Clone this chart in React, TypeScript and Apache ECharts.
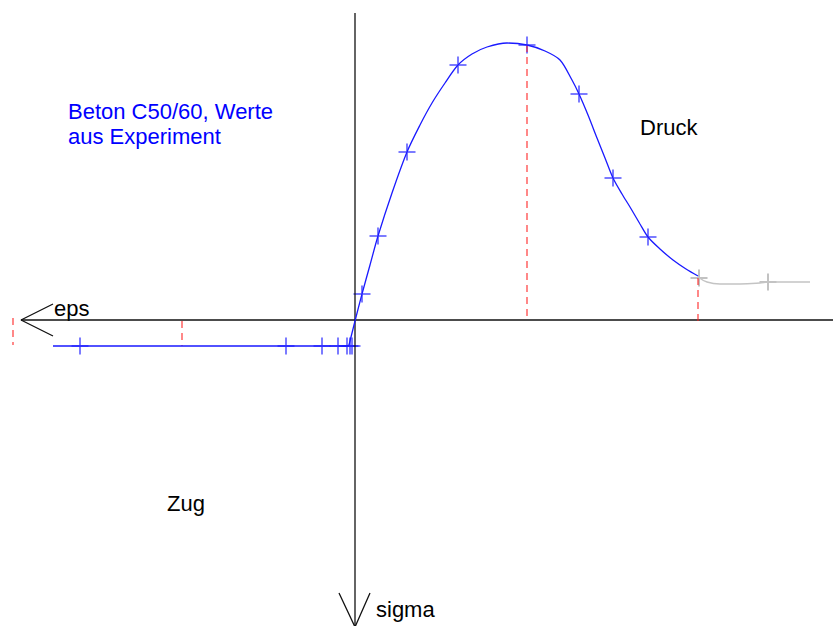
import React, { useEffect, useRef } from "react";
import * as echarts from "echarts";

// Units: x = eps (scaled, origin at the axis crossing), y = sigma (scaled, compression up)
const compressionCurve: [number, number][] = [
  [0, 0], [0.7, 2.7], [1.5, 5.6], [2.3, 8.5], [3.7, 12.8], [5.2, 16.9],
  [6.5, 19.6], [7.7, 21.8], [9.0, 23.8], [10.3, 25.6], [11.7, 26.7], [13.2, 27.4],
  [15.2, 27.8], [17.2, 27.6], [19.0, 27.0], [20.5, 26.1], [21.7, 24.1], [22.4, 22.7],
  [23.3, 20.6], [24.2, 18.3], [25.0, 16.3], [25.8, 14.3], [26.7, 12.7], [27.5, 11.4],
  [28.5, 9.7], [29.3, 8.4], [30.5, 7.2], [31.8, 6.1], [33.1, 5.2], [34.3, 4.5],
];
const compressionMarks: [number, number][] = [
  [0.7, 2.7], [2.3, 8.5], [5.2, 16.9], [10.3, 25.6], [17.2, 27.6],
  [22.4, 22.7], [25.8, 14.3], [29.3, 8.4],
];
const tailCurve: [number, number][] = [
  [34.3, 4.4], [35.2, 3.9], [36.5, 3.7], [38.5, 3.7], [40.5, 3.8], [41.3, 3.9], [45.5, 3.9],
];
const tailMarks: [number, number][] = [[34.4, 4.3], [41.3, 3.9]];
const tensionCurve: [number, number][] = [
  [0, 0], [-0.3, -1.2], [-0.6, -2.4], [-0.8, -2.5], [-30.2, -2.5],
];
const tensionMarks: [number, number][] = [
  [-27.5, -2.5], [-6.9, -2.5], [-3.3, -2.5], [-1.7, -2.5], [-0.8, -2.5], [-0.5, -2.5], [-0.3, -2.5],
];
const limitLines: [number, number][][] = [
  [[-34.2, 0.3], [-34.2, -2.4]],
  [[-17.3, 0], [-17.3, -2.5]],
  [[17.2, 27.6], [17.2, 0]],
  [[34.3, 4.3], [34.3, 0]],
];
const epsAxis: [number, number][] = [[-33.4, 0.1], [47.8, 0.1]];
const epsArrow: [number, number][] = [[-30.2, 1.7], [-33.4, 0.1], [-30.2, -1.5]];
const sigmaAxis: [number, number][] = [[0, 30.8], [0, -30.5]];
const sigmaArrow: [number, number][] = [[-1.6, -27.2], [0, -30.6], [1.5, -27.2]];

const X_MIN = -35.5, X_MAX = 47.8, Y_MIN = -30.5, Y_MAX = 32.1;
const CROSS = "path://M0,5L10,5M5,0L5,10";
const FONT = "'Liberation Sans', Arial, sans-serif";

export default function App() {
  const ref = useRef<HTMLDivElement>(null);
  useEffect(() => {
    if (!ref.current) return;
    const chart = echarts.init(ref.current, null, { renderer: "svg" });
    const blackLine = (data: [number, number][]) => ({
      type: "line", data, symbol: "none", silent: true,
      lineStyle: { color: "#111", width: 1.3 },
    });
    const marks = (data: [number, number][], color: string) => ({
      type: "scatter", data, symbol: CROSS, symbolSize: 17, silent: true,
      itemStyle: { color: "rgba(0,0,0,0)", borderColor: color, borderWidth: 2 },
    });
    chart.setOption({
      animation: false,
      backgroundColor: "#fff",
      grid: { left: 0, right: 0, top: 0, bottom: 0 },
      xAxis: { type: "value", min: X_MIN, max: X_MAX, show: false },
      yAxis: { type: "value", min: Y_MIN, max: Y_MAX, show: false },
      series: [
        blackLine(epsAxis),
        blackLine(epsArrow),
        blackLine(sigmaAxis),
        blackLine(sigmaArrow),
        ...limitLines.map((d) => ({
          type: "line", data: d, symbol: "none", silent: true,
          lineStyle: { color: "rgba(255,30,30,0.75)", width: 1.4, type: [7, 5] },
        })),
        {
          type: "line", data: tailCurve, symbol: "none", smooth: 0.4, silent: true,
          lineStyle: { color: "#c4c4c4", width: 1.4 },
        },
        {
          type: "line", data: compressionCurve, symbol: "none", smooth: 0.3, silent: true,
          lineStyle: { color: "#1a1aff", width: 1.3 },
        },
        {
          type: "line", data: tensionCurve, symbol: "none", silent: true,
          lineStyle: { color: "#1a1aff", width: 1.3 },
        },
        marks(compressionMarks, "rgba(20,20,255,0.7)"),
        marks(tensionMarks, "rgba(20,20,255,0.7)"),
        marks(tailMarks, "rgba(170,170,170,0.9)"),
      ],
      graphic: [
        { type: "text", left: 68, top: 100, style: { text: "Beton C50/60, Werte", fill: "#0000ff", font: `22px ${FONT}` } },
        { type: "text", left: 68, top: 125, style: { text: "aus Experiment", fill: "#0000ff", font: `22px ${FONT}` } },
        { type: "text", left: 640, top: 116, style: { text: "Druck", fill: "#000", font: `22px ${FONT}` } },
        { type: "text", left: 167, top: 492, style: { text: "Zug", fill: "#000", font: `22px ${FONT}` } },
        { type: "text", left: 54, top: 297, style: { text: "eps", fill: "#000", font: `22px ${FONT}` } },
        { type: "text", left: 376, top: 598, style: { text: "sigma", fill: "#000", font: `22px ${FONT}` } },
      ],
    });
    return () => chart.dispose();
  }, []);
  return <div ref={ref} style={{ position: "fixed", left: 0, top: 0, width: 833, height: 626 }} />;
}
